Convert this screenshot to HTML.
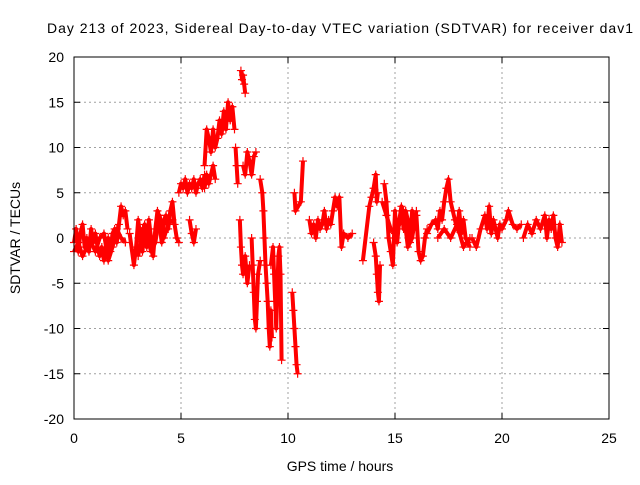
<!DOCTYPE html>
<html><head><meta charset="utf-8"><style>
body{margin:0;background:#fff}
svg text{font-family:"Liberation Sans",sans-serif;font-size:14px;fill:#000}
</style></head><body>
<svg id="chart" width="640" height="480" viewBox="0 0 640 480" xmlns="http://www.w3.org/2000/svg">
<text x="340" y="33" text-anchor="middle" textLength="586" lengthAdjust="spacing">Day 213 of 2023, Sidereal Day-to-day VTEC variation (SDTVAR) for receiver dav1</text>
<text transform="translate(20,238) rotate(-90)" text-anchor="middle">SDTVAR / TECUs</text>
<text x="340" y="471" text-anchor="middle">GPS time / hours</text>
<g id="grid"></g>
<g id="ticks"></g>
<g id="marks"></g>
<rect x="74" y="57" width="535" height="362" fill="none" stroke="#000" stroke-width="1"/>
</svg>
<script>
const xTicks=[0,5,10,15,20,25];
const yTicks=[-20,-15,-10,-5,0,5,10,15,20];
const tA=[0,0.1,0.2,0.3,0.4,0.5,0.6,0.7,0.8,0.9,1.0,1.1,1.2,1.3,1.4,1.5,1.6,1.7,1.8,1.9,2.0,2.1,2.2,2.3,2.4,2.5];
const vA=[-0.5,1,-1.5,0.5,1.5,-1,0,-1.5,1,-0.5,0.5,-1,-2,-1,-2.5,-1,0,-1.5,0.5,1,-0.5,1.5,3.5,2.5,3,1];
const tB=[0,0.2,0.4,0.6,0.8,1,1.2,1.4,1.6,1.8,2,2.2,2.4];
const vB=[-1.5,-0.5,-2,-1,-0.5,-1.5,0,0.5,-2.5,-1,1,0,-0.5];
const tC=[2.6,2.8,2.9,3.0,3.1,3.2,3.3,3.4,3.5,3.6,3.7,3.8,3.9,4.0,4.1,4.2,4.3,4.4,4.5,4.6,4.7,4.8,4.9];
const vC=[0.5,-3,-1,2,0,-1.5,1.5,-1,2,0,-2,1,3,1.5,-0.5,2,2.5,1,3,4,1.5,0,-0.5];
const tD=[3.0,3.2,3.4,3.6,3.8,4.0,4.2,4.4,4.6];
const vD=[-2,1,0.5,-1.5,-0.5,2.5,0,1.5,2];
const tE=[4.9,5.0,5.1,5.2,5.3,5.4,5.5,5.6,5.7,5.8,5.9,6.0,6.1];
const vE=[5,6,5.5,6.5,5,6,5.5,6.5,5,6,6.5,5.5,7];
const tF=[5.4,5.5,5.6,5.7];
const vF=[2,0.5,-0.5,1];
const tG=[6.1,6.2,6.3,6.4,6.5,6.6,6.7,6.8,6.9,7.0,7.1,7.2,7.3,7.4,7.5];
const vG=[8,12,11,9.5,12,10,11,13,11.5,14,12,15,13,14.5,12];
const tG2=[6.1,6.2,6.3,6.5,6.6];
const vG2=[5.5,7,6,8,6.5];
const tH=[7.55,7.6,7.65];
const vH=[10,8,6];
const tI=[7.8,7.85,7.9,7.95,8.0];
const vI=[18.5,17.5,18,17,16];
const tJ=[7.9,8.0,8.1,8.2,8.3,8.4,8.5];
const vJ=[8,7,9.5,8.5,7,9,9.5];
const tK=[7.75,7.8,7.85,7.9,8.0,8.1,8.2];
const vK=[2,-1,-3,-4,-2,-5,-3];
const tL=[8.3,8.35,8.4,8.45,8.5,8.55,8.6,8.7];
const vL=[0,-3,-6,-9,-10,-7,-4,-2.5];
const tM=[8.7,8.8,8.85,8.9,8.95,9.0,9.05,9.1,9.15,9.2,9.25];
const vM=[6.5,5,3,0,-3,-5,-7,-10,-12,-8,-11];
const tN=[9.2,9.3,9.35,9.4,9.45,9.5,9.55,9.6,9.65,9.7];
const vN=[-3,-1,-4,-7,-10,-6,-2,-1,-4,-13.5];
const tO=[10.2,10.25,10.3,10.35,10.4,10.45];
const vO=[-6,-8,-10,-12,-14,-15];
const tP=[10.3,10.35,10.6,10.7];
const vP=[5,3,4,8.5];
const tQ=[11.0,11.1,11.2,11.3,11.4,11.5,11.6,11.7,11.8,11.9,12.0,12.1,12.2,12.3,12.4,12.5,12.6,12.8,13.0];
const vQ=[2,0.5,1.5,0,2,1,1.5,3,1,2,1.5,3,4.5,3.5,4.5,-1,0.5,0,0.5];
const tR=[13.5,13.8,13.9,14.0,14.1,14.15,14.2];
const vR=[-2.5,3.5,4.5,5.5,7,4,5];
const tS=[14.0,14.1,14.15,14.2,14.25,14.3];
const vS=[-0.5,-2,-4,-6,-7,-3];
const tT=[14.5,14.6,14.7,14.8,14.9,15.0,15.1,15.2,15.3,15.4,15.5,15.6,15.7,15.8,15.9,16.0,16.1,16.2,16.3,16.4,16.5];
const vT=[6,4,0,-1.5,-3,3,-0.5,2,3.5,1,3,2,-0.5,3,1,2.5,-1.5,-2.5,-2,0,1];
const tU=[14.4,14.6,14.8,15.0,15.2,15.4,15.6,15.8,16.0];
const vU=[4,2.5,1,0.5,1.5,3,-1,0,3];
const tV=[16.5,16.7,16.9,17.0,17.1,17.2,17.3,17.4,17.5,17.6,17.7,17.8,17.9,18.0,18.1,18.2,18.3,18.4,18.5];
const vV=[0.5,1.5,2,1,3,2,4,5.5,6.5,4,3,2,1,3,0.5,2,0,-0.5,-1];
const tW=[17,17.3,17.6,17.9,18.2,18.5];
const vW=[0,1,0,1.5,-1,0];
const tX=[18.6,18.8,19.0,19.2,19.3,19.4,19.5,19.6,19.7,19.8,19.9,20.0,20.2,20.3,20.5,20.7,20.9];
const vX=[0,-1,1,2.5,1,3.5,0.5,2,1,0,1.5,1,2,3,1.5,1,1.5];
const tY=[21.0,21.2,21.4,21.6,21.8,22.0,22.1,22.2,22.3,22.4,22.5,22.6,22.7,22.8];
const vY=[0,1.5,0.5,2,1,2.5,0,2,1,2.5,0,-1,1.5,-0.5];
const tracks=[[tA,vA],[tB,vB],[tC,vC],[tD,vD],[tE,vE],[tF,vF],[tG,vG],[tG2,vG2],[tH,vH],[tI,vI],[tJ,vJ],[tK,vK],[tL,vL],[tM,vM],[tN,vN],[tO,vO],[tP,vP],[tQ,vQ],[tR,vR],[tS,vS],[tT,vT],[tU,vU],[tV,vV],[tW,vW],[tX,vX],[tY,vY]];
const X0=74,X1=609,Y0=419,Y1=57;
const xs=t=>X0+(t-0)/25*(X1-X0);
const ys=v=>Y0-(v+20)/40*(Y0-Y1);
const NS="http://www.w3.org/2000/svg";
const grid=document.getElementById('grid'),ticks=document.getElementById('ticks'),marks=document.getElementById('marks');
function mk(tag,attrs,parent){const e=document.createElementNS(NS,tag);for(const k in attrs)e.setAttribute(k,attrs[k]);parent.appendChild(e);return e;}
xTicks.forEach(t=>{const x=xs(t);
 if(t>0&&t<25){const g=mk('line',{x1:x,x2:x,y1:Y1,y2:Y0,stroke:'#a0a0a0','stroke-dasharray':'2,3'},grid);
 
 }
 mk('line',{x1:x,x2:x,y1:Y0,y2:Y0-6,stroke:'#000'},ticks);mk('line',{x1:x,x2:x,y1:Y1,y2:Y1+6,stroke:'#000'},ticks);
 const l=mk('text',{x:x,y:Y0+24,'text-anchor':'middle'},ticks);l.textContent=t;
 
 });
yTicks.forEach(v=>{const y=ys(v);
 if(v>-20&&v<20){const g=mk('line',{x1:X0,x2:X1,y1:y,y2:y,stroke:'#a0a0a0','stroke-dasharray':'2,3'},grid);
 
 }
 mk('line',{x1:X0,x2:X0+6,y1:y,y2:y,stroke:'#000'},ticks);mk('line',{x1:X1,x2:X1-6,y1:y,y2:y,stroke:'#000'},ticks);
 const l=mk('text',{x:X0-10,y:y+5,'text-anchor':'end'},ticks);l.textContent=v;
 
 });
tracks.forEach(([ts,vs])=>{
 const pts=ts.map((t,i)=>xs(t)+','+ys(vs[i])).join(' ');
 const pl=mk('polyline',{points:pts,fill:'none',stroke:'#ff0000','stroke-width':4,'stroke-linejoin':'round'},marks);
 
 
 ts.forEach((t,i)=>{const x=xs(t),y=ys(vs[i]);
  const p=mk('path',{d:`M${x-4},${y}H${x+4}M${x},${y-4}V${y+4}`,stroke:'#ff0000','stroke-width':1.2},marks);
  
  });
});
</script>
</body></html>
